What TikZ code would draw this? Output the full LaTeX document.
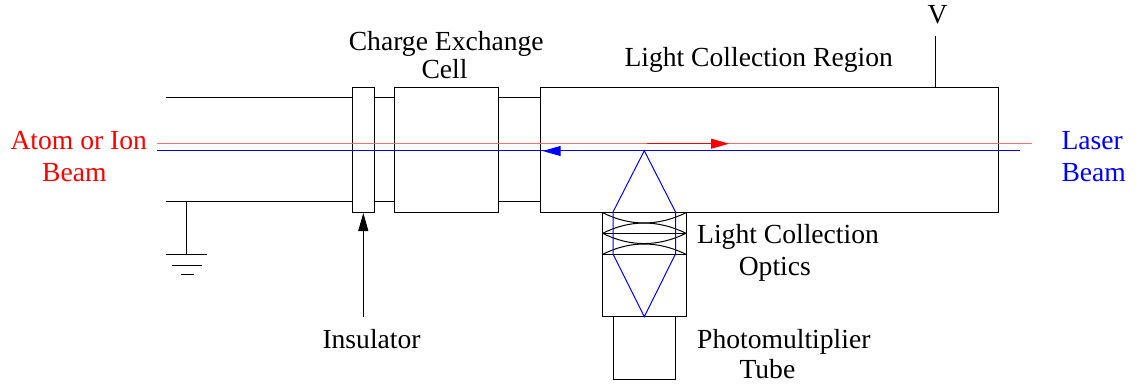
\documentclass[tikz,border=0pt]{standalone}
\usepackage{fontspec}
\setmainfont{Liberation Serif}
\usetikzlibrary{arrows.meta}
\definecolor{beamred}{RGB}{255,0,0}
\definecolor{beampale}{RGB}{255,110,110}
\definecolor{beamblue}{RGB}{0,0,255}
\tikzset{
  wall/.style={black,line width=1pt},
  lbl/.style={inner sep=0pt,anchor=base west,font=\fontsize{27.6}{31}\selectfont},
  head/.style={-{Triangle[length=18pt,width=10pt]}}
}

\begin{document}
\begin{tikzpicture}[x=1pt,y=-1pt,line width=1pt]
  \useasboundingbox (0,0) rectangle (1136,385);
  % pipe
  \coordinate (PTL) at (165.7,98);
  \coordinate (PTR) at (540,98);
  \coordinate (PBL) at (165.7,202);
  \coordinate (PBR) at (540,202);
  \draw[wall] (PTL) -- (PTR);
  \draw[wall] (PBL) -- (PBR);
  % ground
  \coordinate (G0) at (186.3,202);
  \coordinate (G1) at (186.3,254);
  \draw[wall] (G0) -- (G1);
  \draw[wall] (165.7,254) -- (207,254);
  \draw[wall] (172,265) -- (202,265);
  \draw[wall] (181,274.7) -- (194,274.7);
  % boxes
  \draw[wall,fill=white] (352.7,87.3) rectangle (374,212.7);
  \draw[wall,fill=white] (394.5,87.3) rectangle (498.5,212.7);
  \draw[wall,fill=white] (540,87.3) rectangle (998,212.7);
  \coordinate (VA) at (935.5,36);
  \coordinate (VB) at (935.5,87.3);
  \draw[wall] (VA) -- (VB);
  % optics
  \draw[wall] (602.7,212.7) rectangle (686,316.7);
  \draw[wall] (602.7,233.3) -- (686,233.3);
  \draw[wall] (602.7,254.3) -- (686,254.3);
  \foreach \ya/\yb in {212.7/226.4,233.3/219.6,233.3/247,254.3/240.6}
    \draw[wall] (602.7,\ya) .. controls (630,\yb) and (658,\yb) .. (686,\ya);
  \draw[wall] (613,316.7) rectangle (675.5,379);
  % beams
  \coordinate (RA) at (157,143.7);
  \coordinate (RB) at (1031.7,143.7);
  \coordinate (RS) at (646.7,143.7);
  \coordinate (RM) at (729,143.7);
  \coordinate (BA) at (157,151);
  \coordinate (BB) at (1020,151);
  \coordinate (BS) at (565,151);
  \coordinate (BM) at (542.7,151);
  \draw[beampale] (RA) -- (RB);
  \draw[beamblue] (BA) -- (BB);
  \draw[beamred,head] (RS) -- (RM);
  \draw[beamblue,head] (BS) -- (BM);
  \draw[beamblue] (644.3,150.7) -- (613,212) -- (613,254) -- (644.3,316.7)
    -- (675.5,254) -- (675.5,212) -- cycle;
  % insulator arrow
  \coordinate (IA) at (363.3,317);
  \coordinate (IB) at (363.3,213);
  \draw[wall,head] (IA) -- (IB);
  % labels
  \node[lbl] (cellA) at (348.3,50.7) {Charge Exchange};
  \node[lbl] (cellB) at (421,78.7) {Cell};
  \node[lbl] (region) at (624,67) {Light Collection Region};
  \node[lbl] (volt) at (927,24) {V};
  \node[lbl,beamred] (atomA) at (10,150) {Atom or Ion};
  \node[lbl,beamred] (atomB) at (41.7,181.7) {Beam};
  \node[lbl,beamblue] (laserA) at (1061,150) {Laser};
  \node[lbl,beamblue] (laserB) at (1061,182) {Beam};
  \node[lbl] (ins) at (322,348) {Insulator};
  \node[lbl] (opticsA) at (696.7,243.3) {Light Collection};
  \node[lbl] (opticsB) at (738.3,275) {Optics};
  \node[lbl] (pmtA) at (696.7,348.3) {Photomultiplier};
  \node[lbl] (pmtB) at (739,378.3) {Tube};
\end{tikzpicture}
\end{document}
